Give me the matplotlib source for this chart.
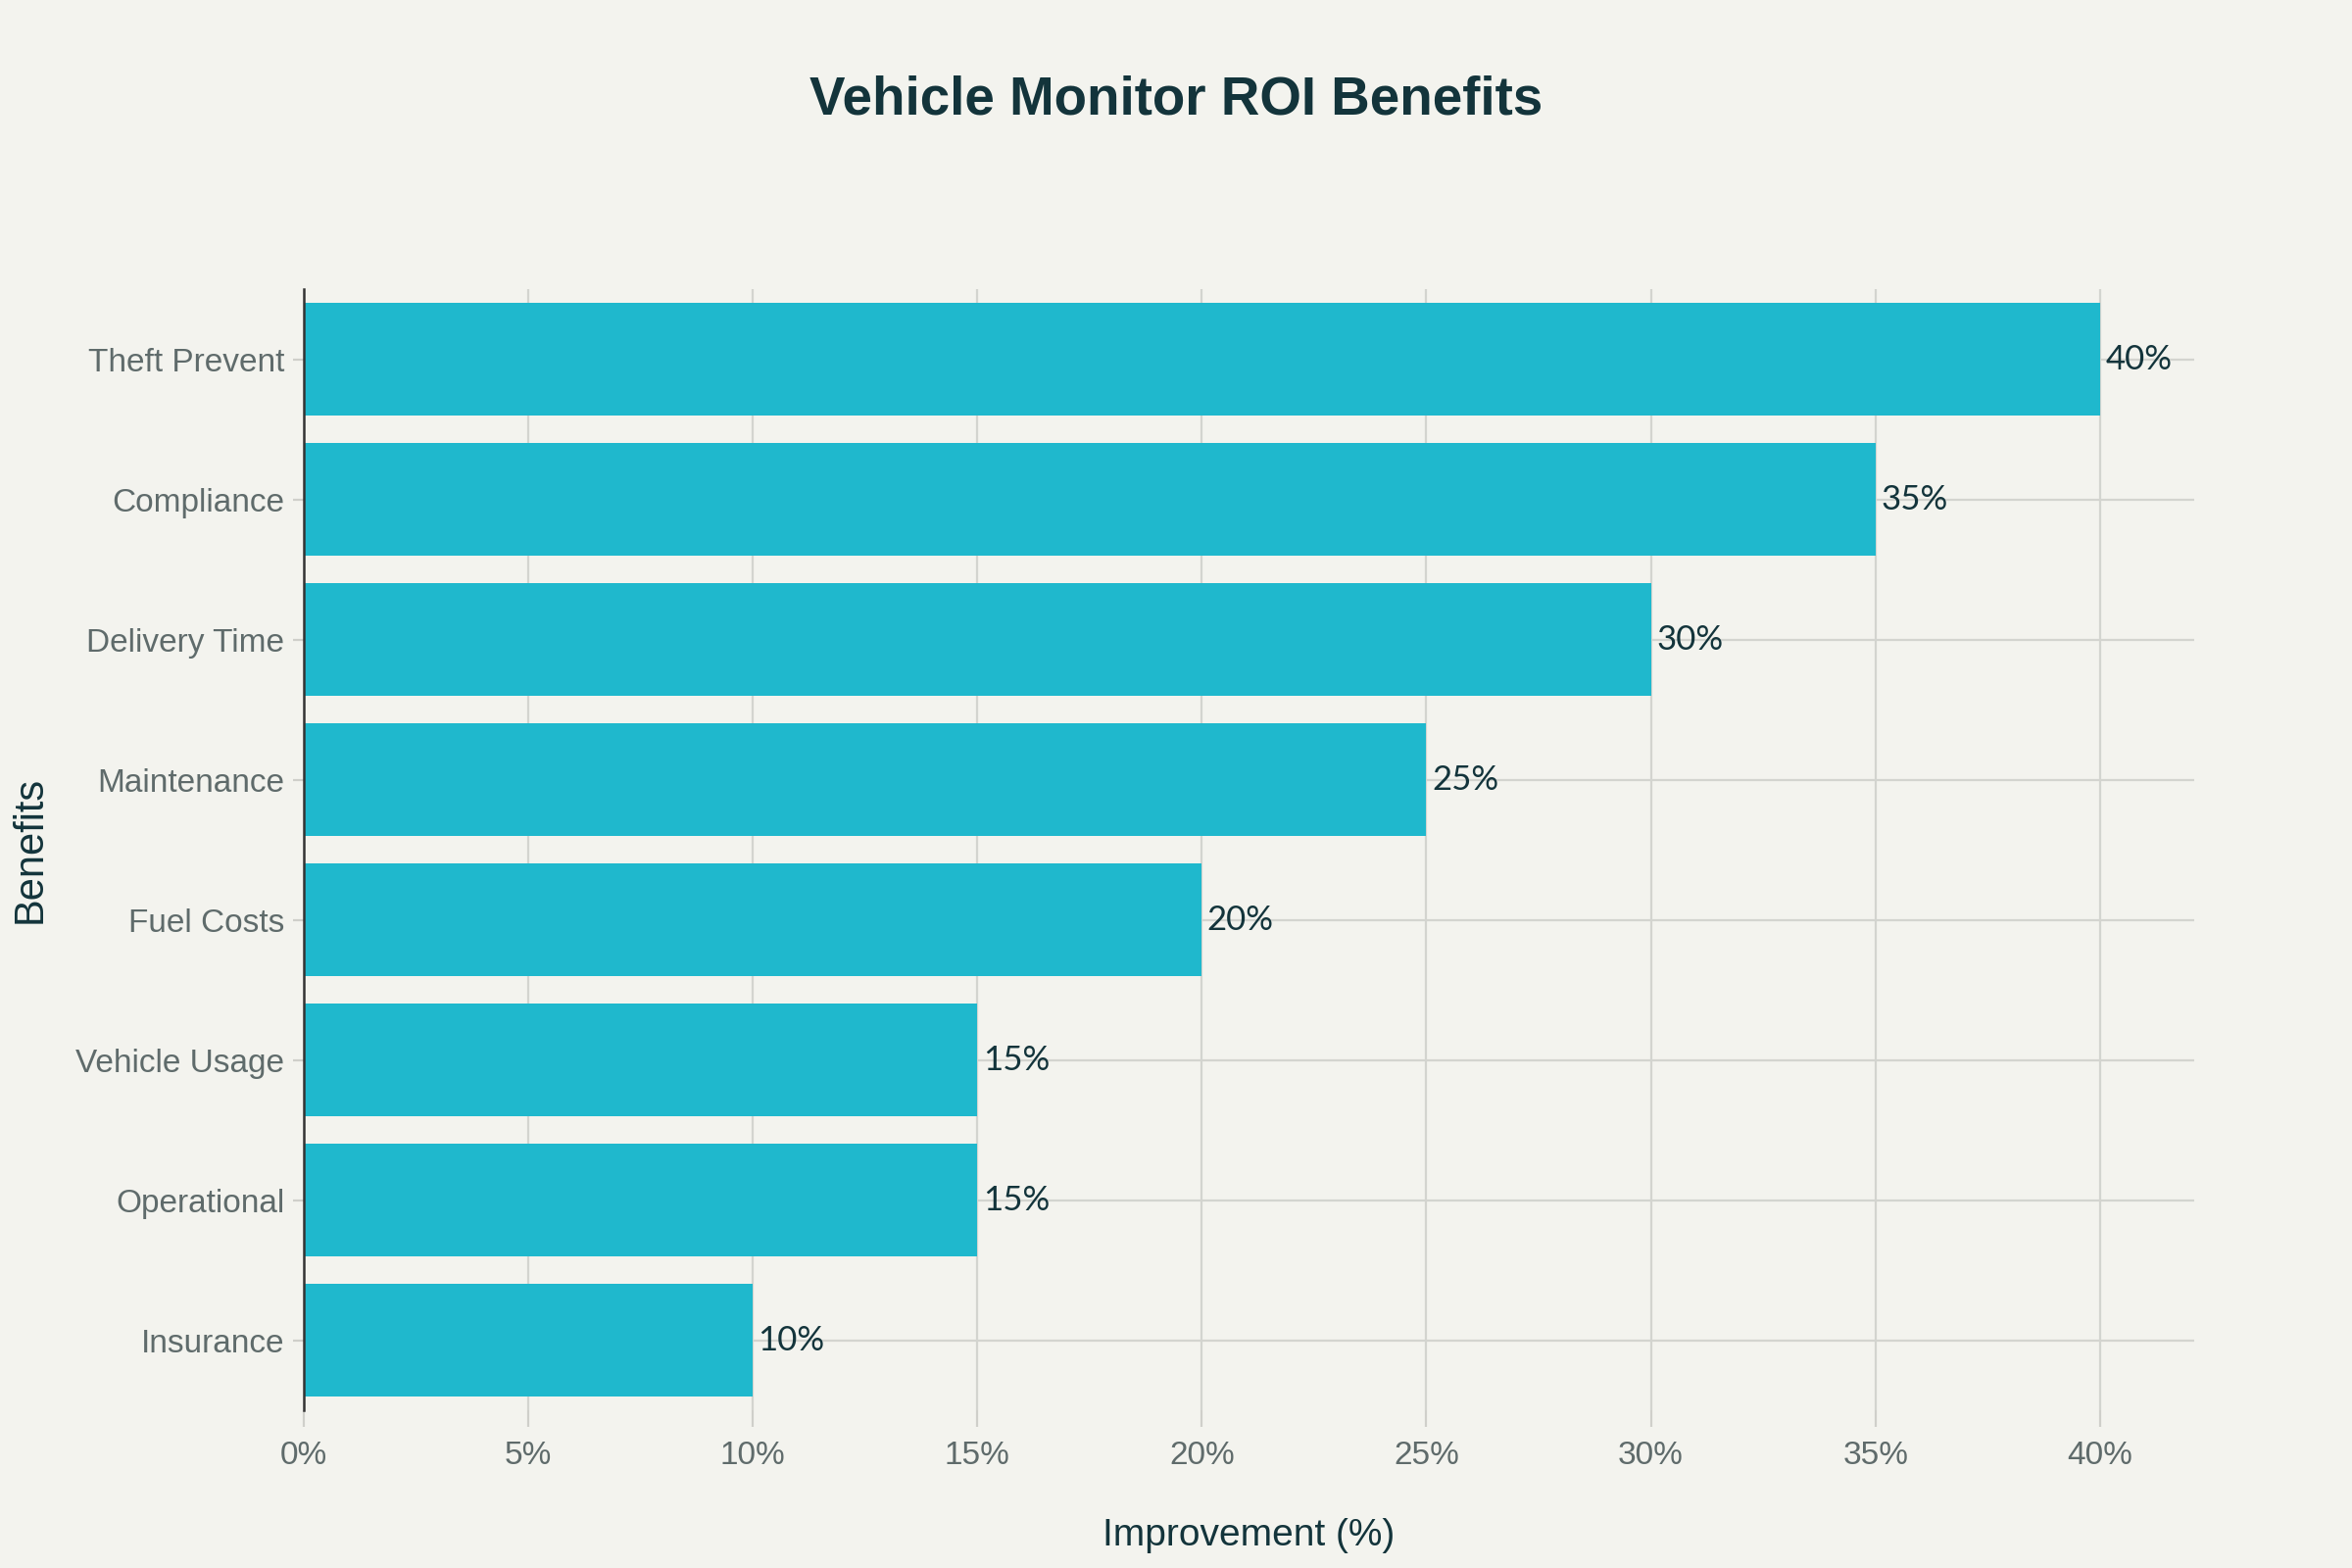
import matplotlib
matplotlib.use("Agg")
import matplotlib.pyplot as plt
from matplotlib.ticker import FuncFormatter

# Datos
beneficios = ["Insurance", "Operational", "Vehicle Usage", "Fuel Costs",
              "Maintenance", "Delivery Time", "Compliance", "Theft Prevent"]
mejora = [10, 15, 15, 20, 25, 30, 35, 40]
ticks_x = [0, 5, 10, 15, 20, 25, 30, 35, 40]

fondo = "#F3F3EE"
color_barra = "#1FB8CD"
color_texto = "#13343B"
color_ticks = "#5F6B6B"

plt.rcParams["font.family"] = ["Liberation Sans", "DejaVu Sans"]

fig = plt.figure(figsize=(12, 8), dpi=200, facecolor=fondo)
ax = fig.add_axes([0.129, 0.1006, 0.804, 0.715], facecolor=fondo)

y = range(len(beneficios))
ax.barh(y, mejora, height=0.8, color=color_barra, zorder=3)

# Etiquetas de valor
for i, v in enumerate(mejora):
    ax.annotate(f"{v}%", (v, i), xytext=(2, 0), textcoords="offset points",
                ha="left", va="center", fontsize=12.5, color=color_texto,
                family=["Lato", "DejaVu Sans"], zorder=4)

ax.set_xlim(0, 42.1)
ax.set_ylim(-0.5, len(beneficios) - 0.5)
ax.set_yticks(list(y))
ax.set_yticklabels(beneficios)
ax.set_xticks(ticks_x)
ax.xaxis.set_major_formatter(FuncFormatter(lambda v, p: f"{v:.0f}%"))

ax.grid(True, color="#D3D4CF", linewidth=0.8, zorder=0)
ax.set_axisbelow(True)

for lado in ["top", "right", "bottom"]:
    ax.spines[lado].set_visible(False)
ax.spines["left"].set_color("#333333")
ax.spines["left"].set_linewidth(0.9)
ax.spines["left"].set_zorder(5)

ax.tick_params(axis="y", length=4, width=0.8, color="#CFCFCA", labelsize=12,
               labelcolor=color_ticks, pad=3)
ax.tick_params(axis="x", length=6, width=0.8, color="#CFCFCA", labelsize=12,
               labelcolor=color_ticks, pad=5)

ax.set_xlabel("Improvement (%)", fontsize=14, color=color_texto)
ax.xaxis.set_label_coords(0.5, -0.096)
ax.set_ylabel("Benefits", fontsize=15, color=color_texto)
ax.yaxis.set_label_coords(-0.134, 0.5)

fig.text(0.5, 0.936, "Vehicle Monitor ROI Benefits", ha="center", va="center",
         fontsize=19.7, fontweight="bold", color=color_texto)

fig.savefig("out.png", dpi=200, facecolor=fondo)
